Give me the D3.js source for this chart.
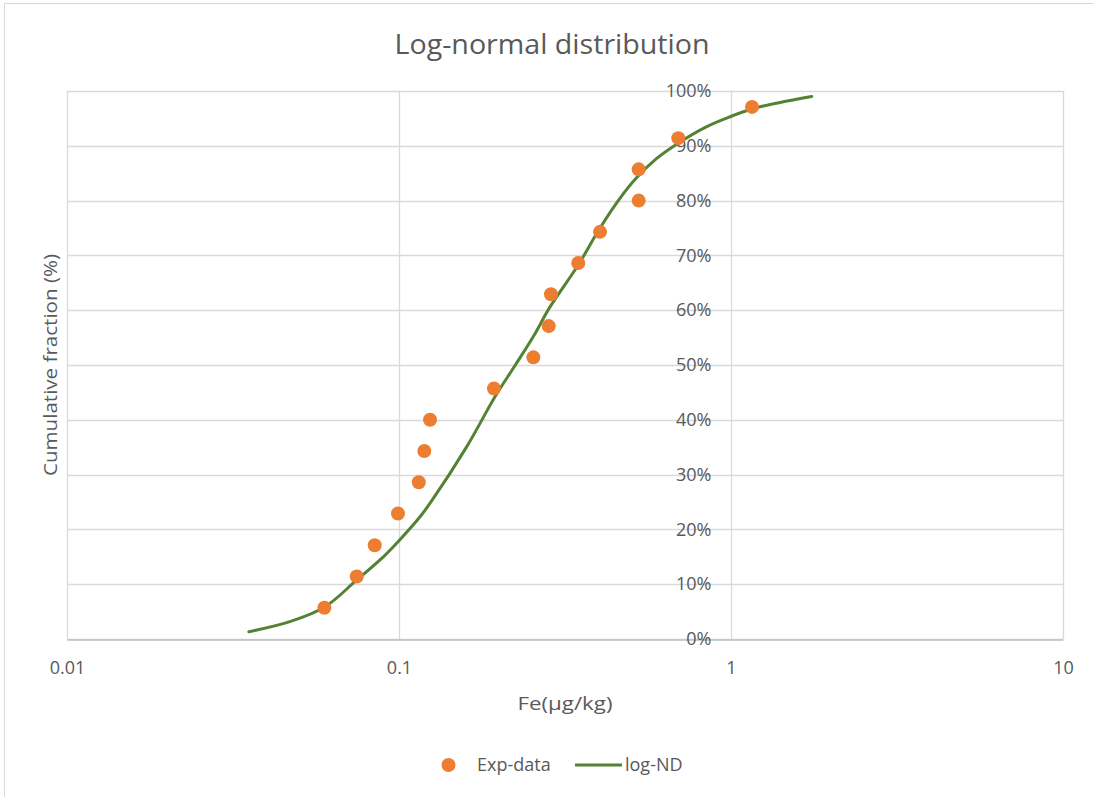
<!DOCTYPE html>
<html>
<head>
<meta charset="utf-8">
<script src="https://cdn.jsdelivr.net/npm/d3@7"></script>
<style>
  html, body { margin: 0; padding: 0; background: #fff; }
  svg { display: block; }
  text { font-family: "Open Sans", sans-serif; fill: #595959; }
</style>
</head>
<body>
<svg id="chart" width="1094" height="797"></svg>
<script>
// ---- data ----
const expX = [0.0596, 0.0746, 0.0845, 0.0993, 0.1147, 0.1192, 0.1240, 0.1932, 0.2539, 0.2824, 0.2870, 0.3467, 0.4032, 0.5272, 0.5270, 0.6938, 1.157];
const expY = [0.057, 0.114, 0.171, 0.229, 0.286, 0.343, 0.400, 0.457, 0.514, 0.571, 0.629, 0.686, 0.743, 0.800, 0.857, 0.914, 0.971];
const fitX = [0.0353, 0.0469, 0.0599, 0.0746, 0.0897, 0.0995, 0.1157, 0.1254, 0.1600, 0.1946, 0.2236, 0.2539, 0.2850, 0.3462, 0.3985, 0.4576, 0.5200, 0.5974, 0.6861, 0.8452, 0.9931, 1.168, 1.405, 1.750];
const fitY = [0.0133, 0.0316, 0.0589, 0.1077, 0.150, 0.178, 0.223, 0.252, 0.351, 0.442, 0.499, 0.552, 0.606, 0.682, 0.745, 0.800, 0.842, 0.877, 0.903, 0.935, 0.953, 0.968, 0.979, 0.990];
const xTicks = [0.01, 0.1, 1, 10];
const xTickLabels = ["0.01", "0.1", "1", "10"];
const yTicks = [0, 0.1, 0.2, 0.3, 0.4, 0.5, 0.6, 0.7, 0.8, 0.9, 1.0];
const seriesNames = ["Exp-data", "log-ND"];
const colors = ["#ED7D31", "#548235"];

// ---- layout ----
const svg = d3.select("#chart");
const L = 67, R = 1063, T = 91, B = 639;
const x = d3.scaleLog().domain([0.01, 10]).range([L, R]);
const y = d3.scaleLinear().domain([0, 1]).range([B, T]);

// chart border
svg.append("rect").attr("x", 4.5).attr("y", 3.5).attr("width", 1100).attr("height", 800)
  .attr("fill", "#fff").attr("stroke", "#D9D9D9").attr("stroke-width", 1);

// gridlines
svg.append("g").selectAll("line").data(yTicks).join("line")
  .attr("x1", L).attr("x2", R)
  .attr("y1", d => Math.round(y(d)) + 0.5).attr("y2", d => Math.round(y(d)) + 0.5)
  .attr("stroke", "#D9D9D9").attr("stroke-width", 1.3);
svg.append("g").selectAll("line").data(xTicks).join("line")
  .attr("x1", d => Math.round(x(d)) + 0.5).attr("x2", d => Math.round(x(d)) + 0.5)
  .attr("y1", T).attr("y2", B)
  .attr("stroke", "#D9D9D9").attr("stroke-width", 1.3);

// x axis
const xAxis = d3.axisBottom(x).tickValues(xTicks)
  .tickFormat((d, i) => xTickLabels[i]).tickSize(0).tickPadding(22);
const gx = svg.append("g").attr("transform", `translate(0,${B + 0.5})`).call(xAxis);
gx.select(".domain").attr("stroke", "#BFBFBF").attr("stroke-width", 1.5);
gx.selectAll("text").attr("font-size", 18).attr("font-family", "Open Sans").attr("fill", "#595959");

// y axis crossing at x = 1
const yAxis = d3.axisLeft(y).tickValues(yTicks).tickFormat(d3.format(".0%")).tickSize(0).tickPadding(20);
const gy = svg.append("g").attr("transform", `translate(${Math.round(x(1)) + 0.5},0)`).call(yAxis);
gy.select(".domain").remove();
gy.selectAll("text").attr("font-size", 18).attr("font-family", "Open Sans").attr("fill", "#595959");

// line
const line = d3.line().x(d => x(d[0])).y(d => y(d[1])).curve(d3.curveCatmullRom.alpha(0.5));
svg.append("path").datum(fitX.map((v, i) => [v, fitY[i]]))
  .attr("d", line).attr("fill", "none").attr("stroke", colors[1])
  .attr("stroke-width", 3).attr("stroke-linecap", "round").attr("stroke-linejoin", "round");

// points
svg.append("g").selectAll("circle").data(expX.map((v, i) => [v, expY[i]])).join("circle")
  .attr("cx", d => x(d[0])).attr("cy", d => y(d[1])).attr("r", 7)
  .attr("fill", colors[0]);

// title
svg.append("text").attr("x", 552).attr("y", 54).attr("text-anchor", "middle")
  .attr("font-size", 28).attr("textLength", 315).attr("lengthAdjust", "spacingAndGlyphs")
  .text("Log-normal distribution");

// axis titles
svg.append("text").attr("x", (L + R) / 2).attr("y", 710).attr("text-anchor", "middle")
  .attr("font-size", 19).attr("textLength", 95).attr("lengthAdjust", "spacingAndGlyphs")
  .text("Fe(μg/kg)");
svg.append("text").attr("transform", `translate(57,${(T + B) / 2}) rotate(-90)`)
  .attr("text-anchor", "middle").attr("font-size", 19)
  .attr("textLength", 222).attr("lengthAdjust", "spacingAndGlyphs")
  .text("Cumulative fraction (%)");

// legend
const lg = svg.append("g");
lg.append("circle").attr("cx", 448.5).attr("cy", 765).attr("r", 7).attr("fill", colors[0]);
lg.append("text").attr("x", 477).attr("y", 771).attr("font-size", 18).text(seriesNames[0]);
lg.append("line").attr("x1", 575).attr("x2", 622).attr("y1", 765).attr("y2", 765)
  .attr("stroke", colors[1]).attr("stroke-width", 3);
lg.append("text").attr("x", 625).attr("y", 771).attr("font-size", 18).text(seriesNames[1]);
</script>
</body>
</html>
